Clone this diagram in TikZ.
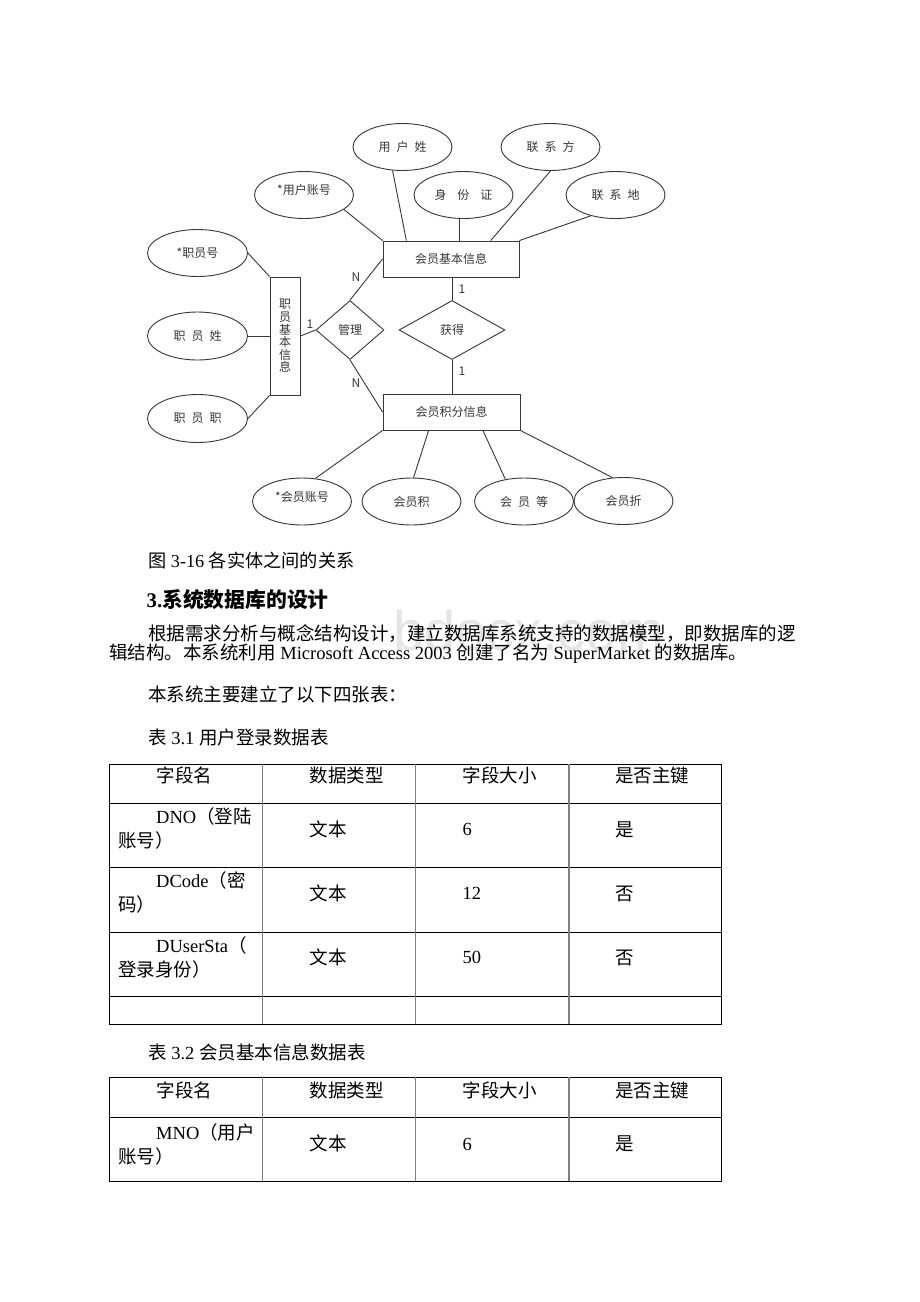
\documentclass[tikz,border=0pt]{standalone}
\usepackage{fontspec}
\setmainfont{Liberation Serif}
\newfontfamily\cjk{Noto Sans CJK SC}
\newfontfamily\wmfont{Liberation Sans}
\usetikzlibrary{shapes.geometric,calc}
\newcommand\zh[1]{{\cjk #1}}
\newcommand\gp{\hspace{0.5em}}
\definecolor{erc}{RGB}{55,55,55}
\definecolor{tgrid}{RGB}{128,128,128}
\begin{document}
\begin{tikzpicture}[x=1pt,y=-1pt,
  er/.style={draw=erc, line width=0.9pt, text=erc, font=\cjk\fontsize{12}{14}\selectfont, inner sep=0pt},
  attr/.style={er, ellipse, minimum width=99pt, minimum height=47pt},
  ent/.style={er, rectangle},
  rel/.style={er, diamond},
  link/.style={draw=erc, line width=0.9pt},
  card/.style={text=erc, font=\cjk\fontsize{12}{14}\selectfont, inner sep=0pt},
  body/.style={anchor=base west, inner sep=0pt, font=\fontsize{18.5}{22}\selectfont},
  hline/.style={draw=black, line width=0.9pt},
  vline/.style={draw=tgrid, line width=1.2pt},
  oline/.style={draw=black, line width=0.9pt}
]
\useasboundingbox (0,0) rectangle (920,1302);
\fill[white] (0,0) rectangle (920,1302);

% watermark
\node[anchor=base east, inner sep=0pt, text=black!10, font=\wmfont\fontsize{56}{60}\selectfont] (wm) at (664,650) {bdocx.com};

% ---------------- ER diagram ----------------
\node[attr] (yhx) at (402.5,147) {用\gp 户\gp 姓};
\node[attr] (lxf) at (550.5,147) {联\gp 系\gp 方};
\node[attr] (yhzh) at (304,195) {\raisebox{5pt}[\height][\depth]{*用户账号}};
\node[attr] (sfz) at (463.5,195) {身\hspace{0.9em}份\hspace{0.9em}证};
\node[attr] (lxd) at (615.5,195) {联\gp 系\gp 地};

\node[attr, minimum width=100pt] (zyh) at (197.5,253) {*职员号};
\node[attr, minimum width=100pt, minimum height=48pt] (zyx) at (197.5,336) {职\gp 员\gp 姓};
\node[attr, minimum width=100pt, minimum height=48pt] (zyz) at (197.5,418.5) {职\gp 员\gp 职};

\node[ent, minimum width=136pt, minimum height=36pt] (jb) at (451,259) {会员基本信息};
\node[ent, minimum width=137pt, minimum height=36pt] (jf) at (451.5,412) {会员积分信息};
\node[ent, minimum width=30pt, minimum height=118pt, align=center, font=\cjk\fontsize{12}{12.6}\selectfont] (zy) at (285,336) {职\\员\\基\\本\\信\\息};

\node[rel, minimum width=68pt, minimum height=59pt] (gl) at (350,330) {管理};
\node[rel, minimum width=106pt, minimum height=59pt] (hd) at (452,330) {获得};

\node[attr] (hyzh) at (302,501.5) {\raisebox{5pt}[\height][\depth]{*会员账号}};
\node[attr] (hyj) at (411.5,501.5) {会员积};
\node[attr] (hyd) at (524,501.5) {会\gp 员\gp 等};
\node[attr] (hyz) at (623.5,501) {会员折};

\draw[link] (yhzh.-20) -- (jb.north west);
\draw[link] (yhx.-113) -- ($(jb.north west)!0.174!(jb.north east)$);
\draw[link] (sfz.-100) -- (sfz.-100 |- jb.north);
\draw[link] (lxf.south) -- ($(jb.north west)!0.79!(jb.north east)$);
\draw[link] (lxd.-140) -- (jb.north east);
\draw[link] (zyh.east) -- (zy.north west);
\draw[link] (zyx.east) -- (zyx.east -| zy.west);
\draw[link] (zyz.east) -- (zy.south west);
\draw[link] (zy.east) -- (gl.west);
\draw[link] (gl.north) -- (jb.west);
\draw[link] (gl.south) -- (jf.west);
\draw[link] (hd.north) -- (hd.north |- jb.south);
\draw[link] (hd.south) -- (hd.south |- jf.north);
\draw[link] (jf.south west) -- (hyzh.60);
\draw[link] ($(jf.south west)!0.334!(jf.south east)$) -- (hyj.85);
\draw[link] ($(jf.south west)!0.728!(jf.south east)$) -- (hyd.130);
\draw[link] (jf.south east) -- (hyz.115);

\node[card] (c1) at (310,324.5) {1};
\node[card] (c2) at (356,277.5) {N};
\node[card] (c3) at (356,383.5) {N};
\node[card] (c4) at (462,289.5) {1};
\node[card] (c5) at (462,371.5) {1};

% ---------------- text ----------------
\node[body, font=\fontsize{18.2}{22}\selectfont] (cap) at (148,567) {\zh{图} 3-16 \zh{各实体之间的关系}};
\node[body, font=\bfseries\fontsize{20.8}{24}\selectfont] (h3) at (146.5,607) {3.\zh{系统数据库的设计}};
\node[body] (p1) at (148,640.5) {\zh{根据需求分析与概念结构设计，建立数据库系统支持的数据模型，即数据库的逻}};
\node[body] (p2) at (109,659.5) {\zh{辑结构。本系统利用} Microsoft Access 2003 \zh{创建了名为} SuperMarket \zh{的数据库。}};
\node[body] (p3) at (148,701) {\zh{本系统主要建立了以下四张表：}};
\node[body] (t31) at (148,744) {\zh{表} 3.1 \zh{用户登录数据表}};

% ---------------- table 3.1 ----------------
\foreach \yy in {764,803.3,867.7,932.3,996.7,1024.3} \draw[hline] (109.3,\yy) -- (721.7,\yy);
\foreach \xx in {262.7,415.7,569} \draw[vline] (\xx,764) -- (\xx,1024.3);
\draw[oline] (109.3,764) -- (109.3,1024.3);
\draw[oline] (721.7,764) -- (721.7,1024.3);

\node[body] (a11) at (156.7,782) {\zh{字段名}};
\node[body] (a12) at (309.3,782) {\zh{数据类型}};
\node[body] (a13) at (462.3,782) {\zh{字段大小}};
\node[body] (a14) at (615,782) {\zh{是否主键}};

\node[body] (a21) at (156,823) {DNO\zh{（登陆}};
\node[body] (a21b) at (118,847) {\zh{账号）}};
\node[body] (a22) at (309.3,836) {\zh{文本}};
\node[body] (a23) at (462.3,835.5) {6};
\node[body] (a24) at (615,836) {\zh{是}};

\node[body] (a31) at (156,887) {DCode\zh{（密}};
\node[body] (a31b) at (118,911) {\zh{码）}};
\node[body] (a32) at (309.3,900) {\zh{文本}};
\node[body] (a33) at (462.3,899.5) {12};
\node[body] (a34) at (615,900) {\zh{否}};

\node[body] (a41) at (156,952) {DUserSta\zh{（}};
\node[body] (a41b) at (118,976) {\zh{登录身份）}};
\node[body] (a42) at (309.3,964) {\zh{文本}};
\node[body] (a43) at (462.3,963.5) {50};
\node[body] (a44) at (615,964) {\zh{否}};

% ---------------- table 3.2 ----------------
\node[body] (t32) at (148,1059) {\zh{表} 3.2 \zh{会员基本信息数据表}};
\foreach \yy in {1077.3,1117.3,1181} \draw[hline] (109.3,\yy) -- (721.7,\yy);
\foreach \xx in {262.7,415.7,569} \draw[vline] (\xx,1077.3) -- (\xx,1181);
\draw[oline] (109.3,1077.3) -- (109.3,1181);
\draw[oline] (721.7,1077.3) -- (721.7,1181);

\node[body] (b11) at (156.7,1097) {\zh{字段名}};
\node[body] (b12) at (309.3,1097) {\zh{数据类型}};
\node[body] (b13) at (462.3,1097) {\zh{字段大小}};
\node[body] (b14) at (615,1097) {\zh{是否主键}};

\node[body] (b21) at (156,1139) {MNO\zh{（用户}};
\node[body] (b21b) at (118,1163) {\zh{账号）}};
\node[body] (b22) at (309.3,1150) {\zh{文本}};
\node[body] (b23) at (462.3,1150) {6};
\node[body] (b24) at (615,1150) {\zh{是}};
\end{tikzpicture}
\end{document}
